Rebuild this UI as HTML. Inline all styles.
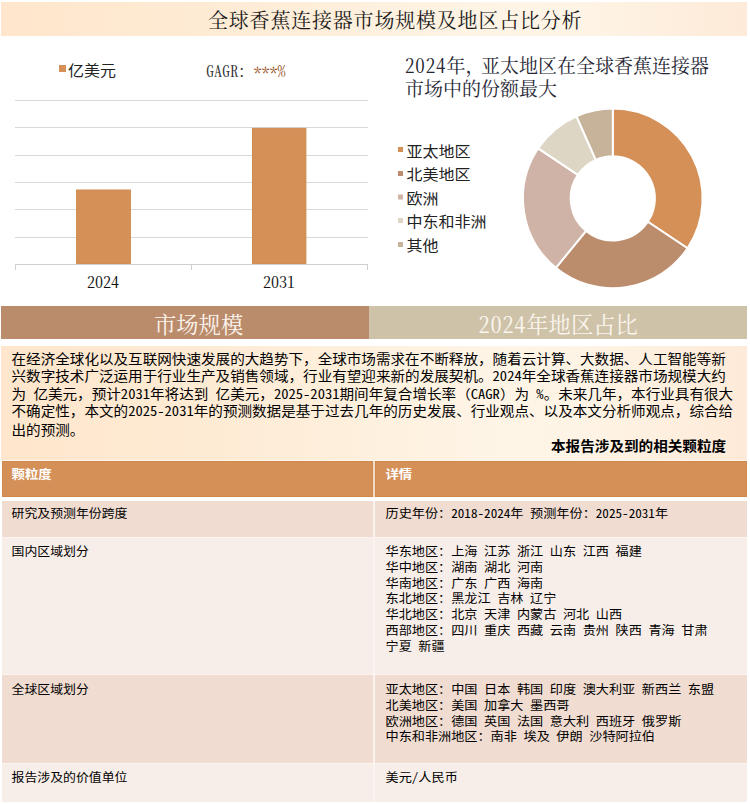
<!DOCTYPE html>
<html lang="zh-CN">
<head>
<meta charset="utf-8">
<title>全球香蕉连接器市场规模及地区占比分析</title>
<style>
html,body{margin:0;padding:0;background:#fff;}
body{width:750px;height:804px;position:relative;overflow:hidden;
 font-family:"Liberation Sans","Noto Sans CJK SC",sans-serif;color:#000;}
.abs{position:absolute;}
.serif{font-family:"Noto Serif CJK SC","Liberation Serif",serif;}
.sans{font-family:"Noto Sans CJK SC","Liberation Sans",sans-serif;}
.h{font-feature-settings:"hwid";}
#title{left:1px;top:2px;width:746px;height:34px;
 background:linear-gradient(90deg,#ffe6cc 0%,#feecd6 33%,#fef5e7 68%,#fef4e5 78%,#feead8 100%);}
#title span{position:absolute;left:207px;top:-0.3px;font-size:20px;letter-spacing:0.8px;line-height:35px;color:#1a1a1a;white-space:nowrap;}
#chart{left:0;top:40px;}
.leg{font-size:16px;line-height:20px;transform:scaleY(0.95);transform-origin:0 50%;color:#222;white-space:nowrap;}
#dtitle{left:405px;top:54px;font-size:19px;line-height:22.7px;color:#262633;white-space:nowrap;}
#band1{left:1px;top:306px;width:368px;height:33px;background:#bb8c6c;}
#band2{left:369px;top:306px;width:378px;height:33px;background:#cec3a8;}
.bt{font-size:22.3px;line-height:34px;color:#fbf5ee;white-space:nowrap;top:306px;}
#para{left:1px;top:346px;width:746px;height:114px;
 background:linear-gradient(90deg,#ffe6cc 0%,#feecd6 33%,#fef5e7 68%,#fef4e5 78%,#feead8 100%);}
#ptext{left:11.5px;top:349.3px;font-size:14.58px;line-height:19.13px;transform:scaleY(0.92);transform-origin:0 0;white-space:nowrap;color:#000;}
#cap{left:551px;top:436.3px;font-size:14.6px;line-height:18px;transform:scaleY(0.95);transform-origin:0 50%;font-weight:bold;white-space:nowrap;}
.row{left:2px;width:745px;}
.c1{position:absolute;left:0;top:0;width:371.4px;height:100%;}
.c2{position:absolute;left:372.8px;top:0;width:372.2px;height:100%;}
.t{position:absolute;left:9.5px;font-size:13.15px;line-height:17.08px;transform:scaleY(0.93);transform-origin:0 0;white-space:nowrap;color:#000;}
.hd{background:#f4dec9;}
.hd .c1,.hd .c2{background:#d59058;box-shadow:inset 0 0 0 1px #cf894d;}
#rowsbg{left:2px;top:501px;width:745px;height:300.5px;background:#faf3ef;}
#hdtop{left:2px;top:460px;width:745px;height:1px;background:#fff5ea;}
.hd .t{color:#fff;font-weight:bold;}
.c1 .t{font-size:12.9px;}
.hd .t{font-size:13.4px !important;margin-top:-0.3px;}
.c2 .t{left:10.7px;}
.o .c1,.o .c2{background:#f0dcd0;}
.e .c1,.e .c2{background:#f8eee9;}
</style>
</head>
<body>
<div id="title" class="abs serif"><span>全球香蕉连接器市场规模及地区占比分析</span></div>

<svg id="chart" class="abs" width="750" height="260" viewBox="0 40 750 260">
 <g stroke="#d9d9d9" stroke-width="1" shape-rendering="crispEdges">
  <line x1="15" y1="100.5" x2="368" y2="100.5"/>
  <line x1="15" y1="127.5" x2="368" y2="127.5"/>
  <line x1="15" y1="155.5" x2="368" y2="155.5"/>
  <line x1="15" y1="182.5" x2="368" y2="182.5"/>
  <line x1="15" y1="209.5" x2="368" y2="209.5"/>
  <line x1="15" y1="237.5" x2="368" y2="237.5"/>
 </g>
 <rect x="76.6" y="190" width="53.8" height="74" fill="#d59058" stroke="#d08a50" stroke-width="1"/>
 <rect x="252.5" y="128.4" width="53.4" height="135.6" fill="#d59058" stroke="#d08a50" stroke-width="1"/>
 <g stroke="#d0d0d0" stroke-width="1" shape-rendering="crispEdges">
  <line x1="15" y1="264.5" x2="368" y2="264.5"/>
  <line x1="15.5" y1="264" x2="15.5" y2="270"/>
  <line x1="191.5" y1="264" x2="191.5" y2="270"/>
  <line x1="367.5" y1="264" x2="367.5" y2="270"/>
 </g>
 <rect x="59" y="65" width="7" height="7" fill="#d59058"/>
 <rect x="398" y="147" width="5" height="5" fill="#d59058"/>
 <rect x="398" y="171" width="5" height="5" fill="#bc8d6c"/>
 <rect x="398" y="194.5" width="5" height="5" fill="#d0b3a7"/>
 <rect x="398" y="218" width="5" height="5" fill="#ddd6c4"/>
 <rect x="398" y="242" width="5" height="5" fill="#c7b39a"/>
 <g id="donut" stroke="#fff" stroke-width="2" stroke-linejoin="round">
  <path fill="#d59058" d="M612.80 108.60A89.8 89.8 0 0 1 687.51 248.23L647.83 221.76A42.1 42.1 0 0 0 612.80 156.30Z"/>
  <path fill="#bc8d6c" d="M687.51 248.23A89.8 89.8 0 0 1 555.80 267.79L586.08 230.93A42.1 42.1 0 0 0 647.83 221.76Z"/>
  <path fill="#d0b3a7" d="M555.80 267.79A89.8 89.8 0 0 1 538.26 148.31L577.86 174.92A42.1 42.1 0 0 0 586.08 230.93Z"/>
  <path fill="#ddd6c4" d="M538.26 148.31A89.8 89.8 0 0 1 576.49 116.27L595.78 159.90A42.1 42.1 0 0 0 577.86 174.92Z"/>
  <path fill="#c7b39a" d="M576.49 116.27A89.8 89.8 0 0 1 612.80 108.60L612.80 156.30A42.1 42.1 0 0 0 595.78 159.90Z"/>
 </g>
</svg>

<div class="abs leg sans" style="left:68px;top:59px;">亿美元</div>
<div class="abs serif" style="left:206px;top:61px;font-size:16px;line-height:20px;white-space:nowrap;color:#333;"><span class="h">GAGR</span>：<span style="color:#9c5a2e;margin-left:-0.5px;"><span style="position:relative;top:3px;font-weight:600;"><span class="h">***</span></span><span class="h">%</span></span></div>
<div class="abs serif" style="left:86.5px;top:272px;font-size:16px;line-height:20px;width:33px;text-align:center;color:#111;"><span class="h">2024</span></div>
<div class="abs serif" style="left:262.5px;top:272px;font-size:16px;line-height:20px;width:33px;text-align:center;color:#111;"><span class="h">2031</span></div>

<div id="dtitle" class="abs serif"><span style="letter-spacing:0.85px"><span class="h">2024</span></span>年<span style="margin-right:-3.4px">，</span>亚太地区在全球香蕉连接器<br>市场中的份额最大</div>
<div class="abs leg sans" style="left:406.5px;top:139.9px;">亚太地区</div>
<div class="abs leg sans" style="left:406.5px;top:163px;">北美地区</div>
<div class="abs leg sans" style="left:406.5px;top:186.7px;">欧洲</div>
<div class="abs leg sans" style="left:406.5px;top:210.1px;">中东和非洲</div>
<div class="abs leg sans" style="left:406.5px;top:233.8px;">其他</div>

<div id="band1" class="abs"></div>
<div id="band2" class="abs"></div>
<div class="abs bt serif" style="left:154px;">市场规模</div>
<div class="abs bt serif" style="left:478.5px;"><span style="letter-spacing:0.8px"><span class="h">2024</span></span>年地区占比</div>

<div id="para" class="abs"></div>
<div id="ptext" class="abs sans">在经济全球化以及互联网快速发展的大趋势下，全球市场需求在不断释放，随着云计算、大数据、人工智能等新<br>兴数字技术广泛运用于行业生产及销售领域，行业有望迎来新的发展契机。<span class="h">2024</span>年全球香蕉连接器市场规模大约<br>为<span class="h"> </span>亿美元，预计<span class="h">2031</span>年将达到<span class="h"> </span>亿美元，<span class="h">2025-2031</span>期间年复合增长率（<span class="h">CAGR</span>）为<span class="h"> %</span>。未来几年，本行业具有很大<br>不确定性，本文的<span class="h">2025-2031</span>年的预测数据是基于过去几年的历史发展、行业观点、以及本文分析师观点，综合给<br>出的预测。</div>
<div id="cap" class="abs sans">本报告涉及到的相关颗粒度</div>

<div id="hdtop" class="abs"></div>
<div id="rowsbg" class="abs"></div>
<div class="abs row hd sans" style="top:461px;height:36px;"><div class="c1"><div class="t" style="top:5.5px;">颗粒度</div></div><div class="c2"><div class="t" style="top:5.5px;">详情</div></div></div>
<div class="abs row o sans" style="top:501px;height:35.5px;"><div class="c1"><div class="t" style="top:4px;">研究及预测年份跨度</div></div><div class="c2"><div class="t" style="top:4px;">历史年份：<span class="h">2018-2024</span>年<span class="h"> </span>预测年份：<span class="h">2025-2031</span>年</div></div></div>
<div class="abs row e sans" style="top:537.5px;height:136.5px;"><div class="c1"><div class="t" style="top:5.5px;">国内区域划分</div></div><div class="c2"><div class="t" style="top:5.5px;">华东地区：上海<span class="h"> </span>江苏<span class="h"> </span>浙江<span class="h"> </span>山东<span class="h"> </span>江西<span class="h"> </span>福建<br>华中地区：湖南<span class="h"> </span>湖北<span class="h"> </span>河南<br>华南地区：广东<span class="h"> </span>广西<span class="h"> </span>海南<br>东北地区：黑龙江<span class="h"> </span>吉林<span class="h"> </span>辽宁<br>华北地区：北京<span class="h"> </span>天津<span class="h"> </span>内蒙古<span class="h"> </span>河北<span class="h"> </span>山西<br>西部地区：四川<span class="h"> </span>重庆<span class="h"> </span>西藏<span class="h"> </span>云南<span class="h"> </span>贵州<span class="h"> </span>陕西<span class="h"> </span>青海<span class="h"> </span>甘肃<br>宁夏<span class="h"> </span>新疆</div></div></div>
<div class="abs row o sans" style="top:675px;height:88px;"><div class="c1"><div class="t" style="top:5.5px;">全球区域划分</div></div><div class="c2"><div class="t" style="top:5.5px;">亚太地区：中国<span class="h"> </span>日本<span class="h"> </span>韩国<span class="h"> </span>印度<span class="h"> </span>澳大利亚<span class="h"> </span>新西兰<span class="h"> </span>东盟<br>北美地区：美国<span class="h"> </span>加拿大<span class="h"> </span>墨西哥<br>欧洲地区：德国<span class="h"> </span>英国<span class="h"> </span>法国<span class="h"> </span>意大利<span class="h"> </span>西班牙<span class="h"> </span>俄罗斯<br>中东和非洲地区：南非<span class="h"> </span>埃及<span class="h"> </span>伊朗<span class="h"> </span>沙特阿拉伯</div></div></div>
<div class="abs row e sans" style="top:764px;height:37.5px;"><div class="c1"><div class="t" style="top:5px;">报告涉及的价值单位</div></div><div class="c2"><div class="t" style="top:5px;">美元<span class="h">/</span>人民币</div></div></div>
</body>
</html>
